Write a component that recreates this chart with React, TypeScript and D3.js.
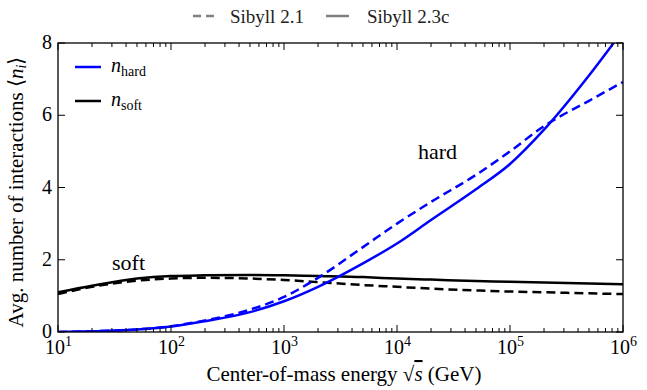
import React from 'react';
import * as d3 from 'd3';

// center-of-mass energies (GeV)
const energies = [10, 20, 50, 100, 200, 500, 1e3, 2e3, 5e3, 1e4, 2e4, 5e4, 1e5, 2e5, 5e5, 1e6];

// Sibyll 2.3c (solid)
const hard23c = [0.0, 0.02, 0.07, 0.15, 0.3, 0.55, 0.85, 1.25, 1.9, 2.45, 3.1, 3.95, 4.65, 5.6, 7.1, 8.35];
const soft23c = [1.1, 1.28, 1.48, 1.55, 1.57, 1.58, 1.57, 1.55, 1.52, 1.48, 1.45, 1.41, 1.39, 1.37, 1.34, 1.32];

// Sibyll 2.1 (dashed)
const hard21 = [0.0, 0.02, 0.07, 0.16, 0.32, 0.62, 0.97, 1.5, 2.35, 3.0, 3.6, 4.35, 5.0, 5.7, 6.4, 6.92];
const soft21 = [1.05, 1.25, 1.42, 1.48, 1.5, 1.48, 1.44, 1.38, 1.3, 1.25, 1.2, 1.15, 1.12, 1.1, 1.07, 1.05];

const xDecades = [1, 2, 3, 4, 5, 6];
const yTicks = [0, 2, 4, 6, 8];

const W = 647;
const H = 390;
const margin = { left: 58, right: 24, top: 43, bottom: 58 };
const serifCss = `
svg.sibyll text, svg.sibyll tspan { font-family: 'Liberation Serif', 'Times New Roman' !important; }
svg.sibyll .it { font-style: italic; }
`;

const App = () => {
    const x = d3.scaleLog().domain([10, 1e6]).range([margin.left, W - margin.right]);
    const y = d3.scaleLinear().domain([0, 8]).range([H - margin.bottom, margin.top]);
    const x0 = x.range()[0], x1 = x.range()[1];
    const y0 = y.range()[0], y1 = y.range()[1];

    const line = d3.line<number>()
        .x((_, i) => x(energies[i]))
        .y(d => y(d))
        .curve(d3.curveMonotoneX);

    // minor ticks 2..9 per decade
    const minor: number[] = [];
    for (let d = 1; d < 6; d++) {
        for (let m = 2; m <= 9; m++) minor.push(m * Math.pow(10, d));
    }

    const series = [
        { values: soft21, color: '#000', dash: '9,5' },
        { values: soft23c, color: '#000', dash: null },
        { values: hard21, color: '#0000ff', dash: '9,5' },
        { values: hard23c, color: '#0000ff', dash: null },
    ];

    return (
        <svg className="sibyll" width={W} height={H} fontFamily="Liberation Serif"
            style={{ position: 'absolute', left: 0, top: 0 }}>
            <style>{serifCss}</style>
            <defs>
                <clipPath id="plotclip">
                    <rect x={x0} y={y1} width={x1 - x0} height={y0 - y1} />
                </clipPath>
            </defs>
            <rect width={W} height={H} fill="#fff" />

            {/* top legend */}
            <line x1={193} x2={216} y1={16} y2={16} stroke="#808080" strokeWidth={2.5} strokeDasharray="8,5" />
            <text x={230} y={23} fontSize="19" fill="#222">Sibyll 2.1</text>
            <line x1={326} x2={349} y1={16} y2={16} stroke="#808080" strokeWidth={2.5} />
            <text x={367} y={23} fontSize="19" fill="#222">Sibyll 2.3c</text>

            <g clipPath="url(#plotclip)">
                {series.map((s, i) => (
                    <path key={i} d={line(s.values) || ''} fill="none" stroke={s.color}
                        strokeWidth={2.5} strokeDasharray={s.dash || undefined} />
                ))}
            </g>

            {/* ticks, inward on all four sides */}
            <g stroke="#000" strokeWidth={1}>
                {xDecades.map(d => {
                    const px = x(Math.pow(10, d));
                    return (
                        <g key={'M' + d}>
                            <line x1={px} x2={px} y1={y0} y2={y0 - 7} />
                            <line x1={px} x2={px} y1={y1} y2={y1 + 7} />
                        </g>
                    );
                })}
                {minor.map((v, i) => (
                    <g key={'m' + i}>
                        <line x1={x(v)} x2={x(v)} y1={y0} y2={y0 - 4} />
                        <line x1={x(v)} x2={x(v)} y1={y1} y2={y1 + 4} />
                    </g>
                ))}
                {yTicks.map(t => (
                    <g key={'y' + t}>
                        <line x1={x0} x2={x0 + 7} y1={y(t)} y2={y(t)} />
                        <line x1={x1} x2={x1 - 7} y1={y(t)} y2={y(t)} />
                    </g>
                ))}
            </g>
            <rect x={x0} y={y1} width={x1 - x0} height={y0 - y1} fill="none" stroke="#000" strokeWidth={1.3} />

            {/* tick labels */}
            {xDecades.map(d => (
                <text key={d} x={x(Math.pow(10, d)) - 13} y={y0 + 22} fontSize="20">
                    10<tspan dy={-8} fontSize="14">{d}</tspan>
                </text>
            ))}
            {yTicks.map(t => (
                <text key={t} x={x0 - 6} y={y(t) + 6} textAnchor="end" fontSize="20">{t}</text>
            ))}

            {/* axis titles */}
            <text x={344} y={381} textAnchor="middle" fontSize="21">
                Center-of-mass energy √<tspan className="it" textDecoration="overline">s</tspan> (GeV)
            </text>
            <text transform={`translate(23,192) rotate(-90)`} textAnchor="middle" fontSize="21">
                Avg. number of interactions ⟨<tspan className="it">n</tspan><tspan className="it" fontSize="14" dy={3}>i</tspan><tspan dy={-3}>⟩</tspan>
            </text>

            {/* inner legend */}
            <line x1={75} x2={101} y1={67} y2={67} stroke="#0000ff" strokeWidth={2.5} />
            <text x={111} y={72} fontSize="20">
                <tspan className="it">n</tspan><tspan fontSize="14" dy={4}>hard</tspan>
            </text>
            <line x1={75} x2={101} y1={101} y2={101} stroke="#000" strokeWidth={2.5} />
            <text x={111} y={106} fontSize="20">
                <tspan className="it">n</tspan><tspan fontSize="14" dy={4}>soft</tspan>
            </text>

            {/* annotations */}
            <text x={418} y={159} fontSize="22">hard</text>
            <text x={112} y={270} fontSize="22">soft</text>
        </svg>
    );
};

export default App;
